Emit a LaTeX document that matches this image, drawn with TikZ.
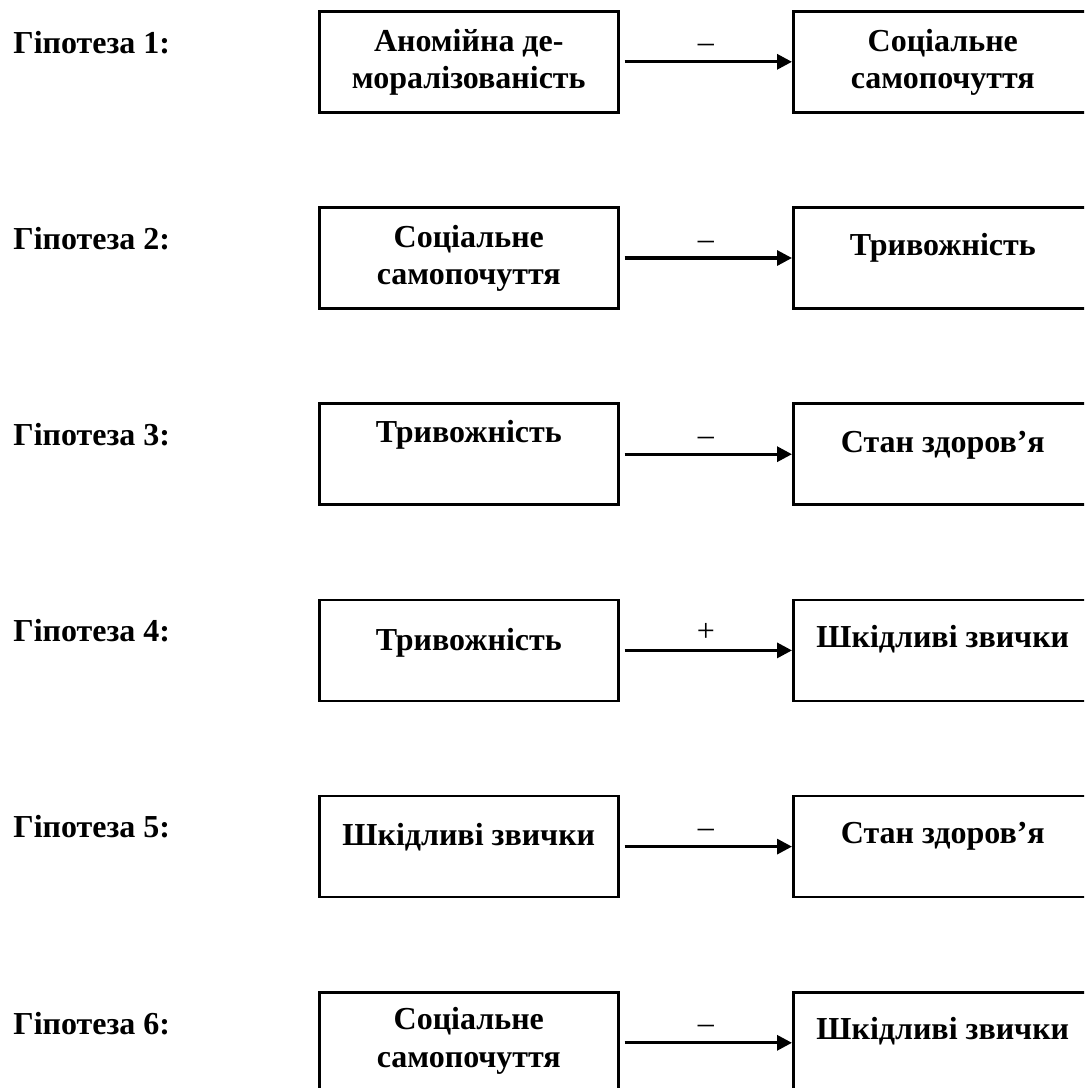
\documentclass[tikz,border=0pt]{standalone}
\usepackage{fontspec}
\setmainfont{Liberation Serif}
\usetikzlibrary{arrows.meta}
\begin{document}
\begin{tikzpicture}[x=0.5pt,y=-0.5pt,
  box/.style={draw, line width=1.3pt, minimum width=149.5pt, minimum height=50.5pt, inner sep=0pt, anchor=north west},
  txt/.style={font=\fontsize{16}{19.2}\selectfont\bfseries, anchor=base, inner sep=0pt},
  hyp/.style={font=\fontsize{16}{19.2}\selectfont\bfseries, anchor=base west, inner sep=0pt},
  sign/.style={font=\fontsize{16}{19.2}\selectfont, anchor=base, inner sep=0pt},
  arr/.style={line width=1.6pt, -{Triangle[length=7.5pt,width=7.5pt]}, shorten <=2.5pt}]
\useasboundingbox (0,0) rectangle (1084,1088);
\clip (0,0) rectangle (1084,1088);

% Row 1
\node[box] (L1) at (318,10) {};
\node[box] (R1) at (792,10) {};
\node[hyp] (h1) at (13,53) {Гіпотеза 1:};
\node[txt] (l1a) at ([yshift=-20.5pt]L1.north) {Аномійна де-};
\node[txt] (l1b) at ([yshift=-39.25pt]L1.north) {моралізованість};
\node[txt] (r1a) at ([yshift=-20.5pt]R1.north) {Соціальне};
\node[txt] (r1b) at ([yshift=-39.25pt]R1.north) {самопочуття};
\draw[arr] (L1.east) -- (R1.west);
\path (L1.east) -- (R1.west) node[midway, sign, yshift=4.5pt] (s1) {–};

% Row 2
\node[box] (L2) at (318,206.2) {};
\node[box] (R2) at (792,206.2) {};
\node[hyp] (h2) at (13,249.2) {Гіпотеза 2:};
\node[txt] (l2a) at ([yshift=-20.5pt]L2.north) {Соціальне};
\node[txt] (l2b) at ([yshift=-39.25pt]L2.north) {самопочуття};
\node[txt] (r2a) at ([yshift=-24.5pt]R2.north) {Тривожність};
\draw[arr] (L2.east) -- (R2.west);
\path (L2.east) -- (R2.west) node[midway, sign, yshift=4.5pt] (s2) {–};

% Row 3
\node[box] (L3) at (318,402.4) {};
\node[box] (R3) at (792,402.4) {};
\node[hyp] (h3) at (13,445.4) {Гіпотеза 3:};
\node[txt] (l3a) at ([yshift=-20pt]L3.north) {Тривожність};
\node[txt] (r3a) at ([yshift=-25pt]R3.north) {Стан здоров’я};
\draw[arr] (L3.east) -- (R3.west);
\path (L3.east) -- (R3.west) node[midway, sign, yshift=4.5pt] (s3) {–};

% Row 4
\node[box] (L4) at (318,598.6) {};
\node[box] (R4) at (792,598.6) {};
\node[hyp] (h4) at (13,641.6) {Гіпотеза 4:};
\node[txt] (l4a) at ([yshift=-26pt]L4.north) {Тривожність};
\node[txt] (r4a) at ([yshift=-24.5pt]R4.north) {Шкідливі звички};
\draw[arr] (L4.east) -- (R4.west);
\path (L4.east) -- (R4.west) node[midway, sign, yshift=4.5pt] (s4) {+};

% Row 5
\node[box] (L5) at (318,794.8) {};
\node[box] (R5) at (792,794.8) {};
\node[hyp] (h5) at (13,837.8) {Гіпотеза 5:};
\node[txt] (l5a) at ([yshift=-25.5pt]L5.north) {Шкідливі звички};
\node[txt] (r5a) at ([yshift=-24.5pt]R5.north) {Стан здоров’я};
\draw[arr] (L5.east) -- (R5.west);
\path (L5.east) -- (R5.west) node[midway, sign, yshift=4.5pt] (s5) {–};

% Row 6
\node[box] (L6) at (318,991) {};
\node[box] (R6) at (792,991) {};
\node[hyp] (h6) at (13,1034) {Гіпотеза 6:};
\node[txt] (l6a) at ([yshift=-19pt]L6.north) {Соціальне};
\node[txt] (l6b) at ([yshift=-38.25pt]L6.north) {самопочуття};
\node[txt] (r6a) at ([yshift=-24pt]R6.north) {Шкідливі звички};
\draw[arr] (L6.east) -- (R6.west);
\path (L6.east) -- (R6.west) node[midway, sign, yshift=4.5pt] (s6) {–};
\end{tikzpicture}
\end{document}
